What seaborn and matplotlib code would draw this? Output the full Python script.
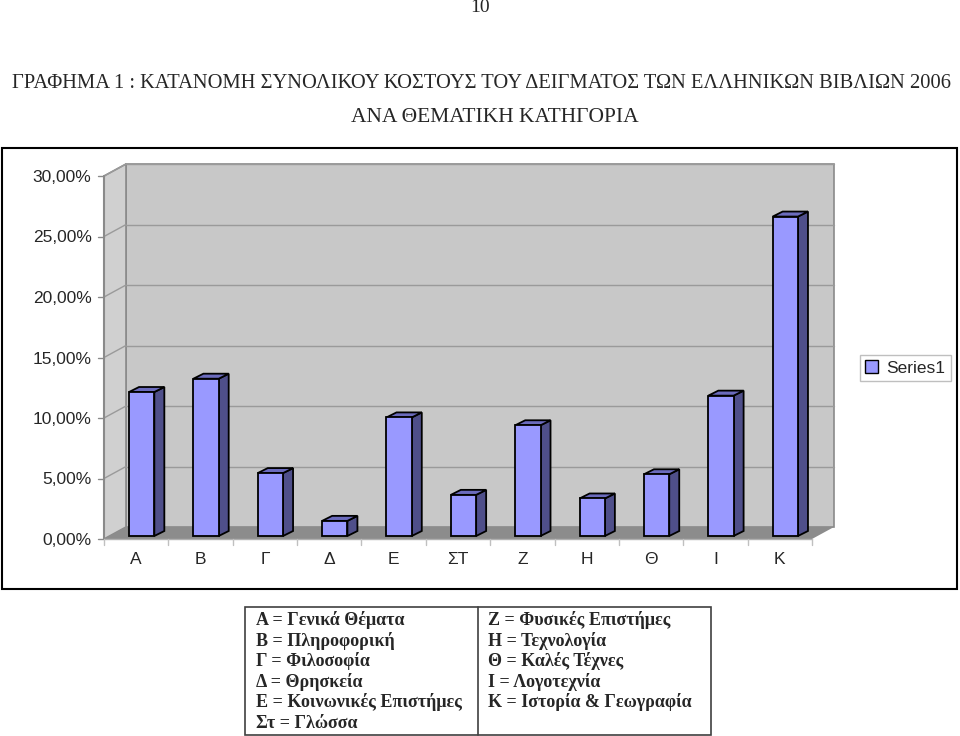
import matplotlib
matplotlib.use("Agg")
import matplotlib.pyplot as plt
import seaborn as sns
import pandas as pd
from matplotlib.patches import Polygon, Rectangle

# ---------------- data ----------------
categories = ["Α", "Β", "Γ", "Δ", "Ε", "ΣΤ", "Ζ", "Η", "Θ", "Ι", "Κ"]
values = [11.9, 13.0, 5.2, 1.25, 9.8, 3.4, 9.15, 3.1, 5.1, 11.6, 26.4]
yticks = [0, 5, 10, 15, 20, 25, 30]
ytick_labels = ["0,00%", "5,00%", "10,00%", "15,00%", "20,00%", "25,00%", "30,00%"]
series_name = "Series1"
title_line1 = "ΓΡΑΦΗΜΑ 1 : ΚΑΤΑΝΟΜΗ ΣΥΝΟΛΙΚΟΥ ΚΟΣΤΟΥΣ ΤΟΥ ΔΕΙΓΜΑΤΟΣ ΤΩΝ ΕΛΛΗΝΙΚΩΝ ΒΙΒΛΙΩΝ 2006"
title_line2 = "ΑΝΑ ΘΕΜΑΤΙΚΗ ΚΑΤΗΓΟΡΙΑ"
page_number = "10"
key_left = ["Α = Γενικά Θέματα", "Β = Πληροφορική", "Γ = Φιλοσοφία",
            "Δ = Θρησκεία", "Ε = Κοινωνικές Επιστήμες", "Στ = Γλώσσα"]
key_right = ["Ζ = Φυσικές Επιστήμες", "Η = Τεχνολογία", "Θ = Καλές Τέχνες",
             "Ι = Λογοτεχνία", "Κ = Ιστορία & Γεωγραφία"]

df = pd.DataFrame({"cat": categories, "val": values})

# ---------------- figure ----------------
W, H = 960, 736
sns.set_theme(style="white")
plt.rcParams["font.family"] = ["Liberation Sans", "DejaVu Sans"]
fig = plt.figure(figsize=(W / 100, H / 100), dpi=100)

# front plane of the plot area in pixels
px_left, px_right, px_bottom, px_top = 104, 812, 539, 176
ax = fig.add_axes([px_left / W, (H - px_bottom) / H,
                   (px_right - px_left) / W, (px_bottom - px_top) / H])
n = len(categories)
ax.set_xlim(-0.5, n - 0.5)
ax.set_ylim(0, 30)
xu = (px_right - px_left) / n          # pixels per category
yu = (px_bottom - px_top) / 30.0       # pixels per percent

# 3D depth offsets (pixels -> data units)
ddx, ddy = 22 / xu, 12 / yu            # floor / wall depth
bdx, bdy = 10 / xu, 5 / yu             # bar depth
sx, sy = 5.5 / xu, 3 / yu              # bar front-face position in depth

wall_col = "#c8c8c8"
lwall_col = "#d0d0d0"
floor_col = "#8c8c8c"
edge_gray = "#8a8a8a"

x0, x1 = -0.5, n - 0.5
# back wall
ax.add_patch(Polygon([(x0 + ddx, ddy), (x1 + ddx, ddy), (x1 + ddx, 30 + ddy), (x0 + ddx, 30 + ddy)],
                     closed=True, facecolor=wall_col, edgecolor=edge_gray, lw=1.2, clip_on=False, zorder=0))
# left wall
ax.add_patch(Polygon([(x0, 0), (x0 + ddx, ddy), (x0 + ddx, 30 + ddy), (x0, 30)],
                     closed=True, facecolor=lwall_col, edgecolor=edge_gray, lw=1.2, clip_on=False, zorder=0))
# gridlines
for t in yticks[1:]:
    ax.plot([x0 + ddx, x1 + ddx], [t + ddy, t + ddy], color="#9a9a9a", lw=1, clip_on=False, zorder=0.5)
    ax.plot([x0, x0 + ddx], [t, t + ddy], color="#9a9a9a", lw=1, clip_on=False, zorder=0.5)
# floor
ax.add_patch(Polygon([(x0, 0), (x1, 0), (x1 + ddx, ddy), (x0 + ddx, ddy)],
                     closed=True, facecolor=floor_col, edgecolor="none", clip_on=False, zorder=0.6))
# axes lines and ticks
ax.plot([x0, x0], [0, 30], color=edge_gray, lw=1.5, clip_on=False, zorder=0.7)
ax.plot([x0, x1], [0, 0], color="#b0b0b0", lw=1, clip_on=False, zorder=0.7)
for t in yticks:
    ax.plot([x0 - 6 / xu, x0], [t, t], color=edge_gray, lw=1, clip_on=False)
for k in range(n + 1):
    ax.plot([x0 + k, x0 + k], [0, -6 / yu], color="#c0c0c0", lw=1, clip_on=False)

# bars
bar_w = 25.3 / xu
sns.barplot(data=df, x="cat", y="val", color="#9999ff", saturation=1, width=bar_w,
            edgecolor="black", linewidth=1.3, label=series_name, ax=ax, zorder=3)
bars = [p for p in ax.patches if isinstance(p, Rectangle) and p.get_height() > 0 and p.get_width() < 1]
for p in bars:
    p.set_x(p.get_x() + sx)
    p.set_y(sy)
    p.set_clip_on(False)
    bx, bw, bh = p.get_x(), p.get_width(), p.get_height()
    top = sy + bh
    side = Polygon([(bx + bw, sy), (bx + bw + bdx, sy + bdy), (bx + bw + bdx, top + bdy), (bx + bw, top)],
                   closed=True, facecolor="#4f4f8a", edgecolor="black", lw=1.3, clip_on=False, zorder=2.9)
    topf = Polygon([(bx, top), (bx + bw, top), (bx + bw + bdx, top + bdy), (bx + bdx, top + bdy)],
                   closed=True, facecolor="#6b6bbd", edgecolor="black", lw=1.3, clip_on=False, zorder=2.9)
    ax.add_patch(side)
    ax.add_patch(topf)

# tick labels
ax.set_xticks(range(n))
ax.set_xticklabels(categories, fontsize=12.5)
ax.set_yticks(yticks)
ax.set_yticklabels(ytick_labels, fontsize=12.5)
ax.tick_params(axis="x", length=0, pad=9)
ax.tick_params(axis="y", length=0, pad=9)
ax.set_xlabel("")
ax.set_ylabel("")
for s in ax.spines.values():
    s.set_visible(False)
ax.set_facecolor("none")

# legend
leg = ax.legend(loc="center left", bbox_to_anchor=(851 / W, (H - 368) / H),
                bbox_transform=fig.transFigure, fontsize=12.5, frameon=True, fancybox=False,
                handlelength=0.75, handleheight=0.75, handletextpad=0.5, borderpad=0.3)
leg.get_frame().set_edgecolor("#b0b0b0")
leg.get_frame().set_linewidth(1)
for h in leg.legend_handles:
    h.set_edgecolor("black")
    h.set_linewidth(1)

# outer chart frame
fig.add_artist(Rectangle((1.5 / W, (H - 589) / H), 955.5 / W, 441 / H, transform=fig.transFigure,
                         fill=False, edgecolor="black", lw=1.5))

# titles and page number
serif = ["Liberation Serif", "DejaVu Serif"]
fig.text(480 / W, 1 - 8 / H, page_number, family=serif, fontsize=14, ha="center", va="center")
fig.text(481 / W, 1 - 83 / H, title_line1, family=serif, fontsize=14.8, ha="center", va="center")
fig.text(495 / W, 1 - 118 / H, title_line2, family=serif, fontsize=15.5, ha="center", va="center")

# key table at bottom
fig.add_artist(Rectangle((245 / W, (H - 735) / H), 466 / W, 128 / H, transform=fig.transFigure,
                         fill=False, edgecolor="#404040", lw=1.2))
fig.add_artist(plt.Line2D([478 / W, 478 / W], [(H - 735) / H, (H - 607) / H], transform=fig.transFigure,
                          color="#404040", lw=1.2))
row_y0, row_dy = 620, 20.6
for i, s in enumerate(key_left):
    fig.text(256 / W, 1 - (row_y0 + i * row_dy) / H, s, family=serif, fontsize=13,
             fontweight="bold", ha="left", va="center")
for i, s in enumerate(key_right):
    fig.text(488 / W, 1 - (row_y0 + i * row_dy) / H, s, family=serif, fontsize=13,
             fontweight="bold", ha="left", va="center")

fig.savefig("out.png", dpi=100, facecolor="white")
